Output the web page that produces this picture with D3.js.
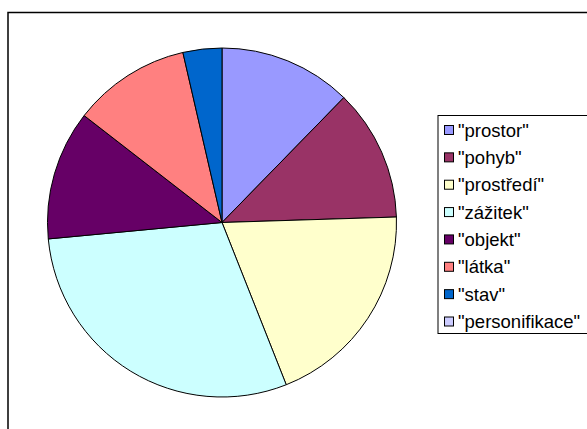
<!DOCTYPE html>
<html><head><meta charset="utf-8">
<script src="https://cdn.jsdelivr.net/npm/d3@7"></script>
<style>body{margin:0;background:#fff}svg{display:block}</style>
</head><body>
<svg id="c" width="587" height="429"></svg>
<script>
const categories = ['"prostor"','"pohyb"','"prostředí"','"zážitek"','"objekt"','"látka"','"stav"','"personifikace"'];
const values = [12.3, 12.2, 19.5, 29.5, 12.0, 10.9, 3.6, 0];
const colors = ["#9999FF","#993366","#FFFFCC","#CCFFFF","#660066","#FF8080","#0066CC","#CCCCFF"];

const svg = d3.select("#c");
// outer chart frame
svg.append("rect").attr("x",8).attr("y",12.5).attr("width",600).attr("height",450)
  .attr("fill","#fff").attr("stroke","#000").attr("stroke-width",1.5);

const data = categories.map((c,i)=>({cat:c, v:values[i], col:colors[i]}));
const pie = d3.pie().value(d=>d.v).sort(null);
const arc = d3.arc().innerRadius(0).outerRadius(174.5);
const g = svg.append("g").attr("transform","translate(222,222.5)");
g.selectAll("path").data(pie(data).filter(d=>d.data.v>0)).join("path")
  .attr("d",arc).attr("fill",d=>d.data.col).attr("stroke","#000").attr("stroke-width",1);

// legend
const lg = svg.append("g");
lg.append("rect").attr("x",438).attr("y",115.5).attr("width",160).attr("height",218)
  .attr("fill","#fff").attr("stroke","#000").attr("stroke-width",1);
const y = d3.scalePoint().domain(categories).range([130,321.5]);
const items = lg.selectAll("g.it").data(data).join("g").attr("class","it")
  .attr("transform",d=>`translate(0,${y(d.cat)})`);
items.append("rect").attr("x",444.5).attr("y",-4.5).attr("width",9).attr("height",9)
  .attr("fill",d=>d.col).attr("stroke","#000").attr("stroke-width",1);
items.append("text").attr("x",458).attr("y",6.5)
  .attr("font-family","Liberation Sans, Arial, sans-serif").attr("font-size",18.5)
  .attr("fill","#000").text(d=>d.cat);
</script>
</body></html>
